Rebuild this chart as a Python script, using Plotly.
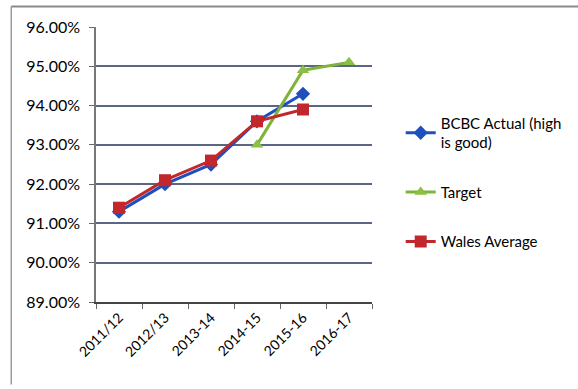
import plotly.graph_objects as go

years = ["2011/12", "2012/13", "2013-14", "2014-15", "2015-16", "2016-17"]
bcbc_actual = [91.3, 92.0, 92.5, 93.6, 94.3, None]
target = [None, None, None, 93.0, 94.9, 95.1]
wales_average = [91.4, 92.1, 92.6, 93.6, 93.9, None]
y_ticks = [89, 90, 91, 92, 93, 94, 95, 96]
y_tick_labels = [f"{v:.2f}%" for v in y_ticks]

FONT = "Lato, 'Open Sans', sans-serif"

fig = go.Figure()

fig.add_trace(go.Scatter(
    x=years, y=bcbc_actual, name="BCBC Actual (high<br>is good)",
    mode="lines+markers", legendgroup="a",
    line=dict(color="#1f4fbf", width=3),
    marker=dict(symbol="diamond", size=11, color="#1f4fbf"),
))
fig.add_trace(go.Scatter(
    x=years, y=target, name="Target",
    mode="lines+markers", legendgroup="b",
    line=dict(color="#7fb33a", width=3),
    marker=dict(symbol="triangle-up", size=11, color="#8cbf45"),
))
fig.add_trace(go.Scatter(
    x=years, y=wales_average, name="Wales Average",
    mode="lines+markers", legendgroup="c",
    line=dict(color="#c0282d", width=3),
    marker=dict(symbol="square", size=12, color="#c0282d"),
))

fig.update_layout(
    width=578, height=389,
    margin=dict(l=96, r=205, t=27, b=87),
    paper_bgcolor="white", plot_bgcolor="white",
    font=dict(family=FONT, size=15, color="#000000"),
    showlegend=True,
    legend=dict(
        x=1.10, y=0.71, xanchor="left", yanchor="top",
        font=dict(family=FONT, size=15, color="#000000"),
        tracegroupgap=27, itemwidth=30,
        bgcolor="rgba(0,0,0,0)",
    ),
    xaxis=dict(
        type="category", categoryorder="array", categoryarray=years,
        range=[-0.5, 5.5],
        showgrid=False, showline=True, linecolor="#444444", linewidth=2,
        ticks="outside", tickson="boundaries", ticklen=5, tickcolor="#666666",
        tickangle=-45, tickfont=dict(family=FONT, size=14, color="#000000"),
    ),
    yaxis=dict(
        range=[89, 96], tickvals=y_ticks, ticktext=y_tick_labels,
        showgrid=True, gridcolor="#596684", gridwidth=2,
        showline=True, linecolor="#777777", linewidth=1.5,
        ticks="outside", ticklen=5, tickcolor="#666666",
        ticklabelstandoff=6,
        tickfont=dict(family=FONT, size=16, color="#000000"),
        zeroline=False,
    ),
    shapes=[
        dict(type="line", xref="paper", yref="paper",
             x0=-0.307, x1=1.75, y0=1.075, y1=1.075,
             line=dict(color="#8a8a8a", width=2)),
        dict(type="line", xref="paper", yref="paper",
             x0=-0.307, x1=-0.307, y0=1.075, y1=-0.30,
             line=dict(color="#9a9a9a", width=1.5)),
    ],
)

fig.write_html("out.html")
